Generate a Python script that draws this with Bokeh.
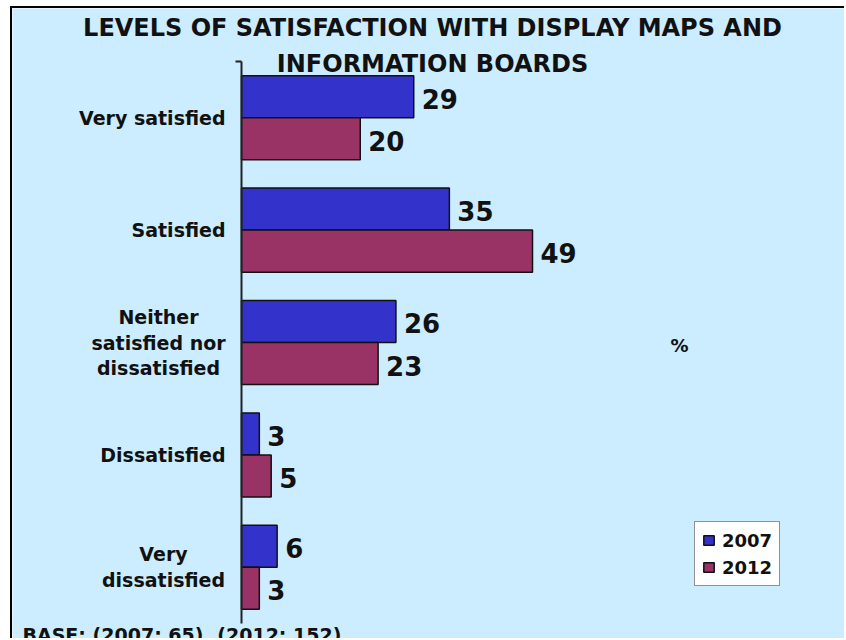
import math
from bokeh.plotting import figure
from bokeh.models import ColumnDataSource, Label, Legend, LegendItem, Range1d
from bokeh.transform import dodge
from bokeh.core.properties import value
from bokeh.embed import file_html
from bokeh.resources import INLINE

# ---- data ----
categories = ["Very satisfied", "Satisfied", "Neither satisfied nor dissatisfied",
              "Dissatisfied", "Very dissatisfied"]
tick_labels = ["Very satisfied", "Satisfied", "Neither\nsatisfied nor\ndissatisfied",
               "Dissatisfied", "Very\ndissatisfied"]
years = ["2007", "2012"]
v2007 = [29, 35, 26, 3, 6]
v2012 = [20, 49, 23, 5, 3]
title_lines = ["LEVELS OF SATISFACTION WITH DISPLAY MAPS AND", "INFORMATION BOARDS"]
base_note = "BASE: (2007: 65), (2012: 152)"
unit_label = "%"

# ---- layout / style ----
BG = "#CCECFF"
C2007 = "#3333CC"
C2012 = "#993366"
INK = "#111111"
FONT = value("DejaVu Sans")
# horizontal anchor (px, left of the axis) of centred multi-line category labels
MULTI_LABEL_CENTRE = {"Neither satisfied nor dissatisfied": -83, "Very dissatisfied": -78}
SINGLE_LABEL_GAP = -16

n = len(categories)
pos = [n - 1 - i for i in range(n)]          # top category drawn highest

src = ColumnDataSource(dict(
    cat=categories, pos=pos, v2007=v2007, v2012=v2012,
    l2007=[str(v) for v in v2007], l2012=[str(v) for v in v2012],
))

single = [i for i, c in enumerate(categories) if c not in MULTI_LABEL_CENTRE]
multi = [i for i, c in enumerate(categories) if c in MULTI_LABEL_CENTRE]
src_single = ColumnDataSource(dict(
    zero=[0] * len(single), pos=[pos[i] for i in single],
    lab=[tick_labels[i] for i in single]))
src_multi = ColumnDataSource(dict(
    zero=[0] * len(multi), pos=[pos[i] for i in multi],
    lab=[tick_labels[i] for i in multi],
    off=[MULTI_LABEL_CENTRE[categories[i]] for i in multi]))

W, H = 834, 632
p = figure(width=W, height=H, output_backend="svg", toolbar_location=None,
           x_range=Range1d(-38.56, 101.87), y_range=Range1d(-0.651, 4.9715),
           x_axis_location=None, y_axis_location=None,
           min_border=0, min_border_left=0, min_border_right=0,
           min_border_top=0, min_border_bottom=0,
           background_fill_color=BG, border_fill_color=BG, outline_line_color=None,
           styles={"margin-left": "10px", "margin-top": "6px",
                   "border-left": "2px solid black", "border-top": "2px solid black"})
p.grid.visible = False

bh = 0.374
r1 = p.hbar(y=dodge("pos", bh / 2), right="v2007", left=0, height=bh,
            source=src, fill_color=C2007, line_color=INK, line_width=1.5)
r2 = p.hbar(y=dodge("pos", -bh / 2), right="v2012", left=0, height=bh,
            source=src, fill_color=C2012, line_color=INK, line_width=1.5)

# value labels
for col, off in (("2007", bh / 2), ("2012", -bh / 2)):
    p.text(x="v" + col, y=dodge("pos", off), text="l" + col, source=src,
           x_offset=8, y_offset=2, text_baseline="middle", text_align="left",
           text_font=FONT, text_font_style="bold", text_font_size="26px",
           text_color=INK)

# category axis: line, top tick + labels
p.segment(x0=0, y0=-0.5, x1=0, y1=n - 0.5, line_color="#222222", line_width=2)
p.ray(x=0, y=n - 0.5, length=6, length_units="screen", angle=math.pi,
      line_color="#222222", line_width=2)
label_style = dict(text_baseline="middle", text_line_height=1.18, text_font=FONT,
                   text_font_style="bold", text_font_size="19px", text_color=INK)
p.text(x="zero", y="pos", text="lab", source=src_single, x_offset=SINGLE_LABEL_GAP,
       text_align="right", **label_style)
p.text(x="zero", y="pos", text="lab", source=src_multi, x_offset="off",
       text_align="center", **label_style)

# title lines (screen units relative to the frame = whole canvas)
for txt, yy in zip(title_lines, (613, 577)):
    p.add_layout(Label(x=420, y=yy, x_units="screen", y_units="screen", text=txt,
                       text_align="center", text_baseline="alphabetic",
                       text_font="DejaVu Sans", text_font_style="bold",
                       text_font_size="24px", text_color=INK))

p.add_layout(Label(x=667, y=295, x_units="screen", y_units="screen", text=unit_label,
                   text_align="center", text_baseline="middle",
                   text_font="DejaVu Sans", text_font_style="bold",
                   text_font_size="18px", text_color=INK))

p.add_layout(Label(x=10, y=6, x_units="screen", y_units="screen", text=base_note,
                   text_align="left", text_baseline="alphabetic",
                   text_font="DejaVu Sans", text_font_style="bold",
                   text_font_size="19px", text_color=INK))

legend = Legend(items=[LegendItem(label=years[0], renderers=[r1]),
                       LegendItem(label=years[1], renderers=[r2])],
                location=(682, 54), orientation="vertical",
                glyph_width=13, glyph_height=12, label_standoff=7,
                label_text_font="DejaVu Sans", label_text_font_style="bold",
                label_text_font_size="18px", label_text_color=INK,
                label_height=22, spacing=5, padding=7, margin=0,
                background_fill_color="white", background_fill_alpha=1,
                border_line_color="#222222", border_line_width=1)
p.add_layout(legend)

open("out.html", "w").write(file_html(p, INLINE))
